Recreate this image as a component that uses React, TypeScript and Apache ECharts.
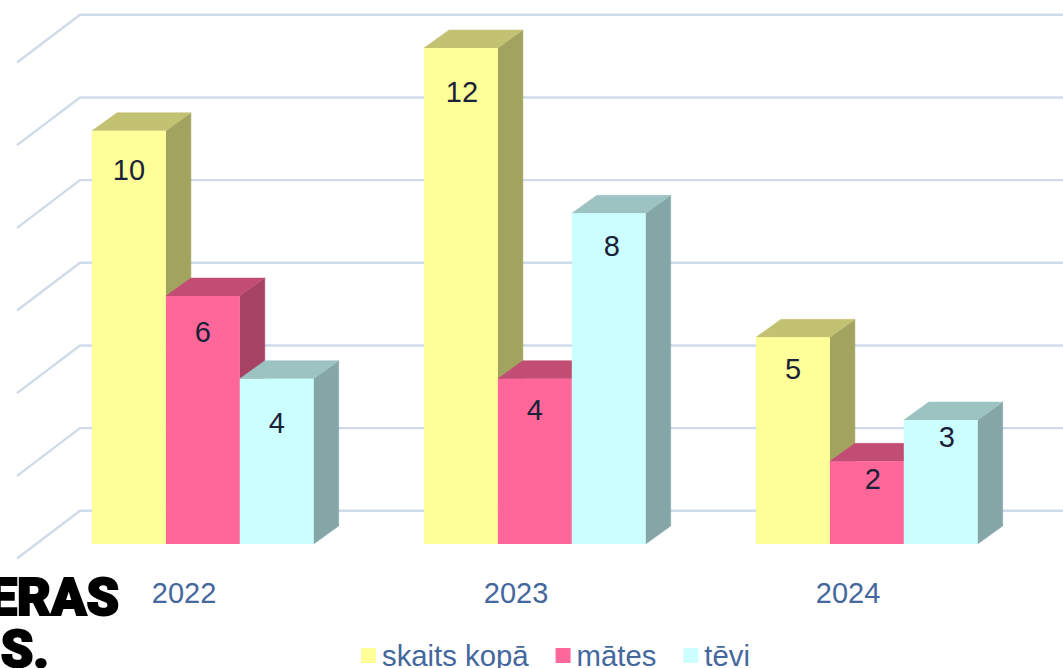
import React, { useEffect, useRef } from "react";
import * as echarts from "echarts";

const years = ["2022", "2023", "2024"];
const totalName = "skaits kopā";
const motherName = "mātes";
const fatherName = "tēvi";
const totalValues = [10, 12, 5];
const motherValues = [6, 4, 2];
const fatherValues = [4, 8, 3];
const gridValues = [0, 2, 4, 6, 8, 10, 12];

const totalLabelNudge = [[0, 39], [1, 44], [0, 32]];
const motherLabelNudge = [[0, 36], [0, 31], [6, 18]];
const fatherLabelNudge = [[0, 44], [3, 33], [6, 17]];

const FONT = '"Liberation Sans", Arial, sans-serif';
const BAR_W = 73.9;
const DEPTH_X = 25;
const DEPTH_Y = 18;
const GROUP_START = -92;

function barSeries(name: string, values: number[], slot: number, face: string, top: string, side: string, nudge: number[][]) {
  return {
    name,
    type: "custom",
    coordinateSystem: "cartesian2d",
    itemStyle: { color: face },
    silent: true,
    clip: false,
    encode: { x: 0, y: 1 },
    data: values.map((v, i) => [i, v]),
    renderItem: (params: any, api: any) => {
      const c = api.coord([api.value(0), api.value(1)]);
      const base = api.coord([api.value(0), 0])[1];
      const x = c[0] + GROUP_START + slot * BAR_W;
      const y = c[1];
      const w = BAR_W;
      const n = nudge[params.dataIndex];
      return {
        type: "group",
        children: [
          { type: "polygon", shape: { points: [[x + w, y], [x + w + DEPTH_X, y - DEPTH_Y], [x + w + DEPTH_X, base - DEPTH_Y], [x + w, base]] }, style: { fill: side, stroke: side, lineWidth: 0.5 } },
          { type: "polygon", shape: { points: [[x, y], [x + w, y], [x + w + DEPTH_X, y - DEPTH_Y], [x + DEPTH_X, y - DEPTH_Y]] }, style: { fill: top, stroke: top, lineWidth: 0.5 } },
          { type: "rect", shape: { x, y, width: w, height: base - y }, style: { fill: face } },
          {
            type: "text",
            style: {
              text: String(api.value(1)),
              x: x + w / 2 + n[0],
              y: y + n[1],
              textAlign: "center",
              textVerticalAlign: "middle",
              fill: "#1a2238",
              fontSize: 29,
              fontFamily: FONT,
            },
          },
        ],
      };
    },
  };
}

export default function App() {
  const ref = useRef<HTMLDivElement>(null);
  useEffect(() => {
    const chart = echarts.init(ref.current!, undefined, { renderer: "svg" });
    chart.setOption({
      animation: false,
      backgroundColor: "#ffffff",
      grid: { left: 18, right: 49, top: 48, bottom: 124, containLabel: false },
      xAxis: {
        type: "category",
        data: years,
        axisLine: { show: false },
        axisTick: { show: false },
        axisLabel: { color: "#44679e", fontSize: 29, fontFamily: FONT, margin: 34 },
      },
      yAxis: { type: "value", min: 0, max: 12, interval: 2, show: false, splitLine: { show: false } },
      legend: {
        left: 361,
        top: 641,
        padding: 0,
        itemWidth: 15,
        itemHeight: 15,
        itemGap: 27,
        icon: "rect",
        data: [totalName, motherName, fatherName],
        textStyle: { color: "#44679e", fontSize: 29.3, fontFamily: FONT, padding: [0, 0, 0, 1] },
      },
      graphic: [
        { type: "text", z: 10, style: { text: "ERAS", x: 119, y: 597, textAlign: "right", textVerticalAlign: "middle", fontFamily: "Roboto", fontWeight: 900, fontSize: 52, lineHeight: 44, fill: "#000", stroke: "#000", lineWidth: 2 } },
        { type: "text", z: 10, style: { text: "S.", x: 49, y: 649, textAlign: "right", textVerticalAlign: "middle", fontFamily: "Roboto", fontWeight: 900, fontSize: 52, lineHeight: 44, fill: "#000", stroke: "#000", lineWidth: 2 } },
      ],
      series: [
        {
          name: "wall",
          type: "custom",
          coordinateSystem: "cartesian2d",
          silent: true,
          clip: false,
          z: 1,
          encode: { x: 0, y: 1 },
          data: gridValues.map((v) => [0, v]),
          renderItem: (_p: any, api: any) => {
            const y = api.coord([0, api.value(1)])[1];
            return {
              type: "polyline",
              shape: { points: [[17, y + 14.5], [80, y - 33.2], [api.getWidth(), y - 33.2]] },
              style: { fill: "none", stroke: "#d0dbe9", lineWidth: 2.4 },
            };
          },
        },
        { ...barSeries(totalName, totalValues, 0, "#ffff99", "#c2c272", "#a3a360", totalLabelNudge), z: 2 },
        { ...barSeries(motherName, motherValues, 1, "#ff6699", "#c24d74", "#a64263", motherLabelNudge), z: 3 },
        { ...barSeries(fatherName, fatherValues, 2, "#ccffff", "#9cc2c2", "#84a6a6", fatherLabelNudge), z: 4 },
      ],
    });
    return () => chart.dispose();
  }, []);
  return <div ref={ref} style={{ position: "fixed", left: 0, top: 0, width: 1063, height: 668, overflow: "hidden" }} />;
}
